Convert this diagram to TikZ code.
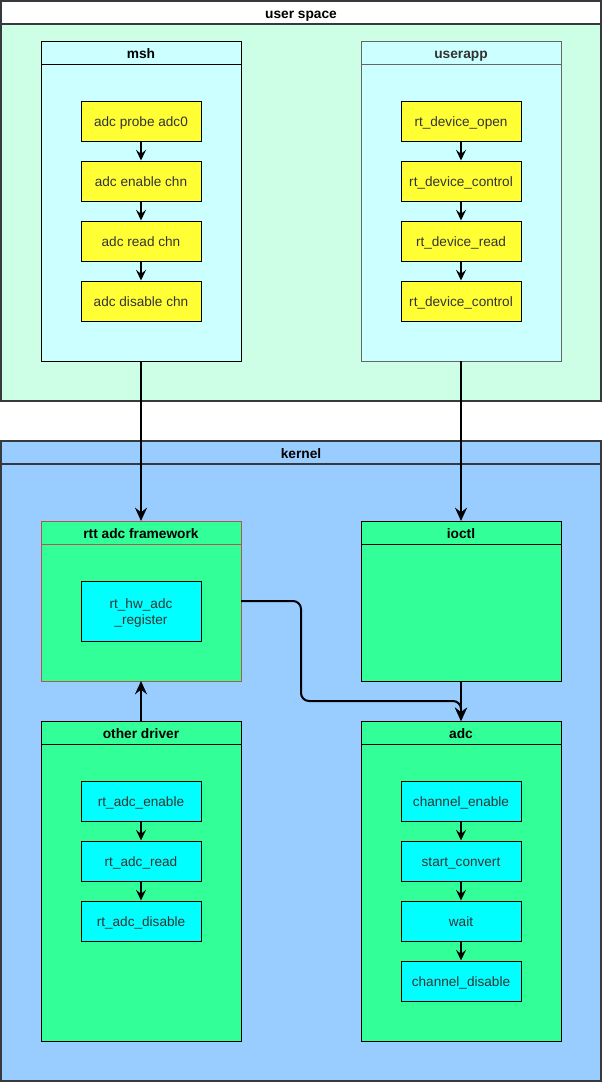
\documentclass[tikz,border=0pt]{standalone}
\usepackage{fontspec}
\setmainfont{Liberation Sans}
\usetikzlibrary{arrows.meta,positioning}
\definecolor{userbg}{HTML}{CCFFE6}
\definecolor{kernbg}{HTML}{99CCFF}
\definecolor{cyanbg}{HTML}{CCFFFF}
\definecolor{greenbg}{HTML}{33FF99}
\definecolor{yel}{HTML}{FFFF33}
\definecolor{aqua}{HTML}{00FFFF}
\definecolor{frame}{HTML}{36393D}
\definecolor{redb}{HTML}{B85450}
\definecolor{grayb}{HTML}{666666}
\begin{document}
\begin{tikzpicture}[x=0.75pt,y=-0.75pt,
  font=\fontsize{10.2}{12}\selectfont,
  container/.style={draw=frame,line width=1.5pt},
  item/.style={draw=black,line width=0.75pt,minimum width=90pt,minimum height=30pt,inner sep=0pt,align=center,text=black!80},
  lbl/.style={text height=7.3pt,text depth=2.2pt},
  yitem/.style={item,fill=yel},
  aitem/.style={item,fill=aqua},
  txt/.style={lbl,yshift=-1.4pt,text=black!80,font=\fontsize{10.2}{12}\selectfont},
  ttl/.style={font=\fontsize{10.3}{12}\selectfont\bfseries,lbl,inner sep=0pt,yshift=-1.3pt},
  conn/.style={draw=black,line width=1.5pt,-{Stealth[length=10pt,width=9pt,inset=3.5pt]}},
  flow/.style={draw=black,line width=1.5pt,-{Stealth[length=8pt,width=7.5pt,inset=3pt]}}]
\useasboundingbox (0,0) rectangle (602,1082);
% user space
\fill[userbg] (1,24) rectangle (601,401);
\fill[white] (1,1) rectangle (601,24);
\draw[container] (1,1) rectangle (601,401);
\draw[container] (1,24) -- (601,24);
\node[ttl] (uslbl) at (301,13) {user space};
% kernel
\fill[kernbg] (1,441) rectangle (601,1081);
\draw[container] (1,441) rectangle (601,1081);
\draw[container] (1,464) -- (601,464);
\node[ttl] (klbl) at (301,453) {kernel};
% msh
\draw[fill=cyanbg,line width=0.75pt] (41,41) rectangle (241,361);
\draw[line width=0.75pt] (41,64) -- (241,64);
\node[ttl] (mshlbl) at (141,53) {msh};
\coordinate (mshb) at (141,361);
% userapp
\draw[fill=cyanbg,draw=grayb,line width=0.75pt] (361,41) rectangle (561,361);
\draw[draw=grayb,line width=0.75pt] (361,64) -- (561,64);
\node[ttl,text=black!80] (uapplbl) at (461,53) {userapp};
\coordinate (uappb) at (461,361);
% rtt adc framework
\draw[fill=greenbg,draw=redb,line width=0.75pt] (41,521) rectangle (241,681);
\draw[draw=redb,line width=0.75pt] (41,544) -- (241,544);
\node[ttl] (fwlbl) at (141,533) {rtt adc framework};
\coordinate (fwt) at (141,521);
\coordinate (fwb) at (141,681);
\coordinate (fwr) at (241,601);
% ioctl
\draw[fill=greenbg,line width=0.75pt] (361,521) rectangle (561,681);
\draw[line width=0.75pt] (361,544) -- (561,544);
\node[ttl] (iolbl) at (461,533) {ioctl};
\coordinate (iot) at (461,521);
\coordinate (iob) at (461,681);
% other driver
\draw[fill=greenbg,line width=0.75pt] (41,721) rectangle (241,1041);
\draw[line width=0.75pt] (41,744) -- (241,744);
\node[ttl] (odlbl) at (141,733) {other driver};
\coordinate (odt) at (141,721);
% adc
\draw[fill=greenbg,line width=0.75pt] (361,721) rectangle (561,1041);
\draw[line width=0.75pt] (361,744) -- (561,744);
\node[ttl] (adclbl) at (461,733) {adc};
\coordinate (adct) at (461,721);
% item boxes
\foreach \n/\x/\y/\s in {m1/141/121/yitem,m2/141/181/yitem,m3/141/241/yitem,m4/141/301/yitem,
  u1/461/121/yitem,u2/461/181/yitem,u3/461/241/yitem,u4/461/301/yitem,
  o1/141/801/aitem,o2/141/861/aitem,o3/141/921/aitem,
  a1/461/801/aitem,a2/461/861/aitem,a3/461/921/aitem,a4/461/981/aitem}
  \node[\s] (\n) at (\x,\y) {};
\node[aitem,minimum height=45pt] (reg) at (141,611) {};
% item texts
\node[txt] (m1t) at (m1) {adc probe adc0};
\node[txt] (m2t) at (m2) {adc enable chn};
\node[txt] (m3t) at (m3) {adc read chn};
\node[txt] (m4t) at (m4) {adc disable chn};
\node[txt] (u1t) at (u1) {rt\_device\_open};
\node[txt] (u2t) at (u2) {rt\_device\_control};
\node[txt] (u3t) at (u3) {rt\_device\_read};
\node[txt] (u4t) at (u4) {rt\_device\_control};
\node[txt,align=center,text height=,text depth=,yshift=0pt] (regt) at (reg) {rt\_hw\_adc\\\_register};
\node[txt] (o1t) at (o1) {rt\_adc\_enable};
\node[txt] (o2t) at (o2) {rt\_adc\_read};
\node[txt] (o3t) at (o3) {rt\_adc\_disable};
\node[txt] (a1t) at (a1) {channel\_enable};
\node[txt] (a2t) at (a2) {start\_convert};
\node[txt] (a3t) at (a3) {wait};
\node[txt] (a4t) at (a4) {channel\_disable};
% flows
\foreach \a/\b in {m1/m2,m2/m3,m3/m4,u1/u2,u2/u3,u3/u4,o1/o2,o2/o3,a1/a2,a2/a3,a3/a4}
  \draw[flow] (\a) -- (\b);
% connectors
\draw[conn] (mshb) -- (fwt);
\draw[conn] (uappb) -- (iot);
\draw[conn] (odt) -- (fwb);
\draw[conn] (iob) -- (adct);
\draw[conn,rounded corners=6pt] (fwr) -- (301,601) -- (301,701) -- (461,701) -- (adct);
\end{tikzpicture}
\end{document}
